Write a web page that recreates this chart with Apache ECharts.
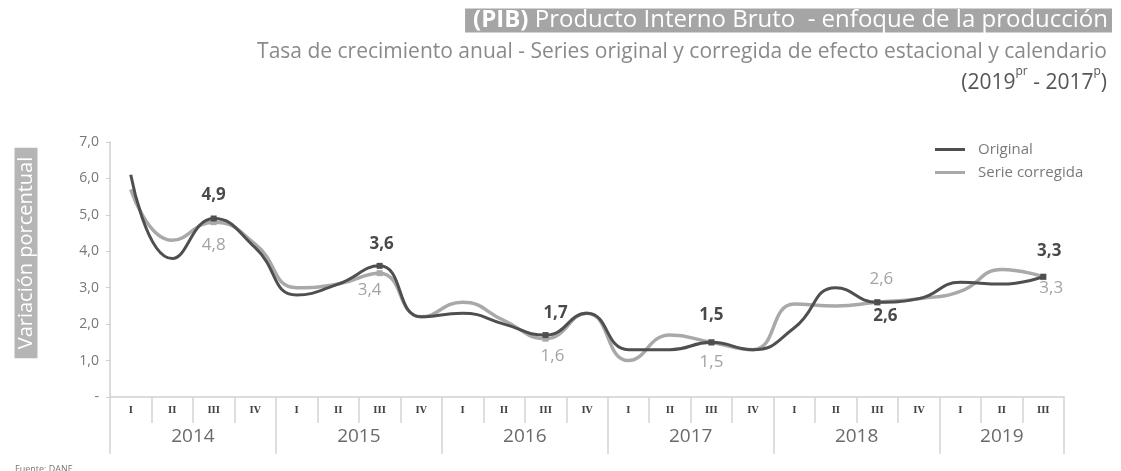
<!DOCTYPE html>
<html>
<head>
<meta charset="utf-8">
<script src="https://cdn.jsdelivr.net/npm/echarts@6/dist/echarts.min.js"></script>
<style>
html,body{margin:0;padding:0;background:#fff;}
#chart{width:1121px;height:471px;}
</style>
</head>
<body>
<div id="chart"></div>
<script>
// ---- data ----
const quarters = ['I','II','III','IV','I','II','III','IV','I','II','III','IV','I','II','III','IV','I','II','III','IV','I','II','III'];
const years = ['2014','2015','2016','2017','2018','2019'];
const original  = [6.1, 3.8, 4.9, 4.1, 2.8, 3.1, 3.6, 2.2, 2.3, 2.0, 1.7, 2.3, 1.3, 1.3, 1.5, 1.3, 1.9, 3.0, 2.6, 2.7, 3.15, 3.1, 3.3];
const corrected = [5.7, 4.3, 4.8, 4.2, 3.0, 3.1, 3.4, 2.2, 2.6, 2.1, 1.6, 2.3, 1.0, 1.7, 1.5, 1.3, 2.55, 2.5, 2.6, 2.7, 2.9, 3.5, 3.3];
const seriesNames = ['Original', 'Serie corregida'];
const yTicks = [0,1,2,3,4,5,6,7];

// ---- styles (label placement per year, for the III-quarter labels) ----
const origLabelStyle = [
  {position:'top', distance:12, offset:[0,0]},
  {position:'top', distance:10, offset:[2,0]},
  {position:'top', distance:10, offset:[10,0]},
  {position:'top', distance:16, offset:[0,0]},
  {position:'bottom', distance:2, offset:[8,0]},
  {position:'top', distance:14, offset:[6,0]}
];
const corrLabelStyle = [
  {position:'bottom', distance:12, offset:[0,0]},
  {position:'bottom', distance:6, offset:[-10,0]},
  {position:'bottom', distance:6, offset:[7,0]},
  {position:'bottom', distance:8, offset:[0,0]},
  {position:'top', distance:12, offset:[4,0]},
  {position:'bottom', distance:0, offset:[8,0]}
];

const fmt = v => Number(v).toFixed(1).replace('.', ',');

// year spans on the quarter axis
const yearStarts = [], yearEnds = [];
{
  let y = -1;
  quarters.forEach((q, i) => {
    if (q === 'I') { y++; yearStarts[y] = i; }
    yearEnds[y] = i + 1;
  });
}
const yearCenters = yearStarts.map((s, i) => (s + yearEnds[i]) / 2);
const yearBounds = yearStarts.concat([quarters.length]);

function buildData(values, styles, color, bold) {
  let yi = -1;
  return values.map((v, i) => {
    if (quarters[i] === 'I') yi++;
    if (quarters[i] !== 'III') return {value: v};
    const s = styles[yi];
    return {
      value: v,
      symbolSize: 6,
      label: {
        show: true,
        position: s.position,
        distance: s.distance,
        offset: s.offset,
        formatter: p => fmt(p.value),
        fontSize: 17,
        fontFamily: 'Open Sans',
        fontWeight: bold ? 'bold' : 'normal',
        color: color
      }
    };
  });
}

const chart = echarts.init(document.getElementById('chart'), null, {renderer: 'canvas'});
const darkColor = '#4f4f4f';
const lightColor = '#a9a9a9';

chart.setOption({
  animation: false,
  backgroundColor: '#ffffff',
  textStyle: {fontFamily: 'Open Sans'},
  title: [
    {
      text: '{b|(PIB)}{n| Producto Interno Bruto  - enfoque de la producción}',
      right: 9, top: 7,
      backgroundColor: '#a5a5a5',
      padding: [0, 4, 0, 8],
      textStyle: {
        fontSize: 24, color: '#fff', fontWeight: 'normal',
        rich: {
          b: {fontSize: 24, color: '#fff', fontWeight: 'bold', fontFamily: 'Open Sans', lineHeight: 27},
          n: {fontSize: 24, color: '#fff', fontWeight: 'normal', fontFamily: 'Open Sans', lineHeight: 27}
        }
      }
    },
    {
      text: 'Tasa de crecimiento anual - Series original y corregida de efecto estacional y calendario',
      right: 9, top: 37,
      textStyle: {fontSize: 21, color: '#8a8a8a', fontWeight: 'normal', fontFamily: 'Open Sans'}
    },
    {
      text: '{n|(2019}{s|pr}{n| - 2017}{s|p}{n|)}',
      right: 9, top: 61,
      textStyle: {
        fontWeight: 'normal',
        rich: {
          n: {fontSize: 21, color: '#555', fontWeight: 'normal', fontFamily: 'Open Sans', lineHeight: 28, verticalAlign: 'bottom'},
          s: {fontSize: 12, color: '#555', fontWeight: 'normal', fontFamily: 'Open Sans', lineHeight: 14, verticalAlign: 'top'}
        }
      }
    },
    {
      text: 'Fuente: DANE',
      left: 10, top: 460,
      textStyle: {fontSize: 9, color: '#777', fontWeight: 'normal', fontFamily: 'Open Sans'}
    }
  ],
  legend: {
    data: seriesNames.map(n => ({name: n, icon: 'rect'})),
    orient: 'vertical',
    left: 930, top: 137,
    itemWidth: 30, itemHeight: 3, itemGap: 8,
    textStyle: {fontSize: 15, color: '#7a7a7a', fontFamily: 'Open Sans', padding: [0,0,0,8]}
  },
  grid: {left: 110, right: 57, top: 142, bottom: 74, containLabel: false},
  xAxis: [
    {
      type: 'category',
      data: quarters,
      boundaryGap: true,
      position: 'bottom',
      axisLine: {show: true, lineStyle: {color: '#cfcfcf', width: 1.5}},
      axisTick: {show: true, interval: 0, length: 26, lineStyle: {color: '#d4d4d4', width: 1.5}},
      axisLabel: {interval: 0, margin: 9, fontSize: 9, fontWeight: 'bold', color: '#444', fontFamily: 'DejaVu Serif'},
      splitLine: {show: false}
    },
    {
      type: 'value',
      min: 0, max: quarters.length,
      position: 'bottom',
      axisLine: {show: false},
      axisTick: {show: true, customValues: yearBounds, length: 57, lineStyle: {color: '#d4d4d4', width: 1.5}},
      axisLabel: {
        show: true, customValues: yearCenters, margin: 30, fontSize: 19, color: '#6a6a6a', fontFamily: 'Open Sans',
        formatter: v => { const i = yearCenters.indexOf(v); return i >= 0 ? years[i] : ''; }
      },
      splitLine: {show: false}
    }
  ],
  yAxis: {
    type: 'value',
    min: 0, max: 7, interval: 1,
    axisLine: {show: true, lineStyle: {color: '#cfcfcf', width: 1.5}},
    axisTick: {show: true, length: 4, lineStyle: {color: '#cfcfcf'}},
    axisLabel: {
      margin: 11, fontSize: 14, color: '#777', fontFamily: 'Open Sans',
      customValues: yTicks,
      formatter: v => v === 0 ? '-' : fmt(v)
    },
    splitLine: {show: false}
  },
  graphic: [
    {
      type: 'text',
      x: 26, y: 253,
      rotation: Math.PI / 2,
      style: {
        text: 'Variación porcentual',
        align: 'center', verticalAlign: 'middle',
        fill: '#ffffff',
        font: '20px "Open Sans"',
        backgroundColor: '#b5b5b5',
        padding: [2, 9, 1, 9]
      }
    }
  ],
  series: [
    {
      name: seriesNames[1],
      type: 'line',
      xAxisIndex: 0,
      smooth: 0.5,
      symbol: 'rect',
      symbolSize: 0,
      showSymbol: true,
      showAllSymbol: true,
      lineStyle: {color: lightColor, width: 3.5},
      itemStyle: {color: lightColor},
      data: buildData(corrected, corrLabelStyle, '#a3a3a3', false),
      z: 2
    },
    {
      name: seriesNames[0],
      type: 'line',
      xAxisIndex: 0,
      smooth: 0.5,
      symbol: 'rect',
      symbolSize: 0,
      showSymbol: true,
      showAllSymbol: true,
      lineStyle: {color: darkColor, width: 3},
      itemStyle: {color: darkColor},
      data: buildData(original, origLabelStyle, '#4a4a4a', true),
      z: 3
    }
  ]
});
</script>
</body>
</html>
